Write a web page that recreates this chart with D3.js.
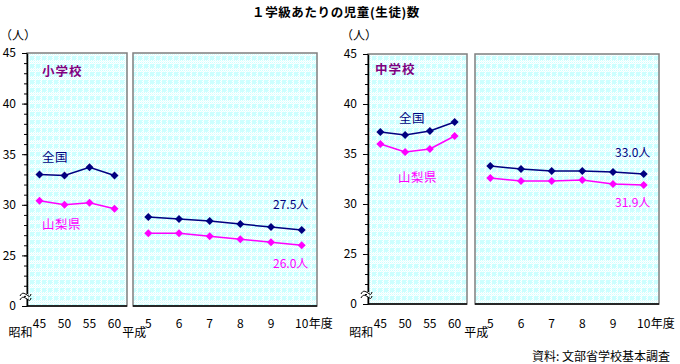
<!DOCTYPE html>
<html><head><meta charset="utf-8">
<script src="https://cdn.jsdelivr.net/npm/d3@7"></script>
<style>body{margin:0;background:#fff} text{font-family:"Noto Sans CJK JP","Noto Sans",sans-serif}</style>
</head><body><svg id="c" width="680" height="364"></svg>
<script>
// ---- data ----
const showaYears = ["45","50","55","60"];
const heiseiYears = ["5","6","7","8","9","10"];
const elemNationalShowa   = [33.0, 32.9, 33.7, 32.9];
const elemYamanashiShowa  = [30.4, 30.0, 30.2, 29.6];
const elemNationalHeisei  = [28.8, 28.6, 28.4, 28.1, 27.8, 27.5];
const elemYamanashiHeisei = [27.2, 27.2, 26.9, 26.6, 26.3, 26.0];
const juniorNationalShowa   = [37.2, 36.9, 37.3, 38.2];
const juniorYamanashiShowa  = [36.0, 35.2, 35.5, 36.8];
const juniorNationalHeisei  = [33.8, 33.5, 33.3, 33.3, 33.2, 33.0];
const juniorYamanashiHeisei = [32.6, 32.3, 32.3, 32.4, 32.0, 31.9];
const yTickValues = [20, 25, 30, 35, 40, 45];   // 20 position shown as "0" (broken axis)
const yTickLabels = ["0","25","30","35","40","45"];
const seriesNames = ["全国","山梨県"];

const NAVY = "#000080", MAG = "#ff00ff", PURPLE = "#800080";
const svg = d3.select("#c");

// background pattern
const defs = svg.append("defs");
const dith = defs.append("pattern").attr("id","dith").attr("patternUnits","userSpaceOnUse").attr("width",2).attr("height",2);
dith.append("rect").attr("width",2).attr("height",2).attr("fill","#fff");
dith.append("rect").attr("width",1).attr("height",1).attr("fill","#ccffff");
dith.append("rect").attr("x",1).attr("y",1).attr("width",1).attr("height",1).attr("fill","#eaffff");
const bg = defs.append("pattern").attr("id","bg").attr("patternUnits","userSpaceOnUse").attr("width",6).attr("height",8);
bg.append("rect").attr("width",6).attr("height",8).attr("fill","url(#dith)");
bg.append("rect").attr("width",4).attr("height",4).attr("fill","#ccffff");

// title
svg.append("text").attr("x",336).attr("y",17).attr("text-anchor","middle")
  .attr("font-size",12.5).attr("font-weight","bold").attr("letter-spacing",0.6)
  .text("１学級あたりの児童(生徒)数");
svg.append("text").attr("x",670).attr("y",361).attr("text-anchor","end")
  .attr("font-size",12).text("資料: 文部省学校基本調査");

function drawChart(cfg){
  const g = svg.append("g");
  const y = d3.scaleLinear().domain([20,45]).range([cfg.bottom, cfg.top]);
  const x1 = d3.scaleBand().domain(showaYears).range(cfg.p1);
  const x2 = d3.scaleBand().domain(heiseiYears).range(cfg.p2);

  // panels
  [cfg.p1, cfg.p2].forEach(r=>{
    g.append("rect").attr("x",r[0]).attr("y",cfg.top).attr("width",r[1]-r[0]).attr("height",cfg.bottom-cfg.top)
      .attr("fill","url(#bg)").attr("stroke","#808080").attr("stroke-width",1.5);
    g.append("line").attr("x1",r[0]).attr("x2",r[1]).attr("y1",cfg.bottom).attr("y2",cfg.bottom)
      .attr("stroke","#000").attr("stroke-width",1.5);
  });

  // y axis
  const minor = g.append("g").attr("transform",`translate(${cfg.p1[0]},0)`)
    .call(d3.axisLeft(y).tickValues(d3.range(20,46,1)).tickSize(3).tickSizeOuter(0).tickFormat(""));
  minor.select(".domain").attr("stroke","#000").attr("stroke-width",1.5);
  const major = g.append("g").attr("transform",`translate(${cfg.p1[0]},0)`)
    .call(d3.axisLeft(y).tickValues(yTickValues).tickSize(5).tickSizeOuter(0).tickPadding(6)
      .tickFormat((d,i)=>yTickLabels[i]));
  major.select(".domain").remove();
  major.selectAll("text").attr("font-size",12).attr("fill","#000");
  g.selectAll(".tick line").attr("stroke","#000");

  // break symbol
  const ax = cfg.p1[0], yy = y(20) - 9;
  g.append("rect").attr("x",ax-1).attr("y",yy-3).attr("width",2).attr("height",5).attr("fill","#fff");
  [-2,2].forEach(o=>{
    g.append("path").attr("d",`M${ax-7},${yy+o+1} C${ax-5},${yy+o-3} ${ax-3},${yy+o-2} ${ax},${yy+o} S${ax+3},${yy+o+2} ${ax+4},${yy+o-1}`)
      .attr("fill","none").attr("stroke","#000").attr("stroke-width",1);
  });

  // x labels
  const lx = g.append("g").attr("font-size",12);
  showaYears.forEach(d=>lx.append("text").attr("x",x1(d)+x1.bandwidth()/2).attr("y",328).attr("text-anchor","middle").text(d));
  heiseiYears.forEach(d=>lx.append("text").attr("x",x2(d)+x2.bandwidth()/2).attr("y",328).attr("text-anchor","middle").text(d));
  const last = heiseiYears[heiseiYears.length-1];
  lx.append("text").attr("x",x2(last)+x2.bandwidth()/2+7).attr("y",328).text("年度");
  lx.append("text").attr("x",x1(showaYears[0])+x1.bandwidth()/2-7).attr("y",337).attr("text-anchor","end").text("昭和");
  lx.append("text").attr("x",x2(heiseiYears[0])+x2.bandwidth()/2-2).attr("y",337).attr("text-anchor","end").text("平成");

  // unit
  g.append("text").attr("x",cfg.p1[0]-27).attr("y",40).attr("font-size",12).text("（人）");

  // series
  const line = d3.line().x(d=>d[0]).y(d=>d[1]);
  const diamond = "M0,-4L4,0L0,4L-4,0Z";
  cfg.series.forEach(s=>{
    [[x1, showaYears, s.showa],[x2, heiseiYears, s.heisei]].forEach(([xs, cats, vals])=>{
      const pts = vals.map((v,i)=>[xs(cats[i])+xs.bandwidth()/2, y(v)]);
      g.append("path").attr("d",line(pts)).attr("fill","none").attr("stroke",s.color).attr("stroke-width",1.5);
      g.selectAll(null).data(pts).enter().append("path").attr("d",diamond)
        .attr("transform",d=>`translate(${d[0]},${d[1]})`).attr("fill",s.color);
    });
  });

  // annotations
  g.append("text").attr("x",cfg.titlePos[0]).attr("y",cfg.titlePos[1]).attr("font-size",12.5)
    .attr("font-weight","bold").attr("fill",PURPLE).attr("letter-spacing",1).text(cfg.title);
  cfg.series.forEach(s=>{
    g.append("text").attr("x",s.namePos[0]).attr("y",s.namePos[1]).attr("font-size",12.5)
      .attr("fill",s.color).attr("letter-spacing",0.5).text(s.name);
    const v = s.heisei[s.heisei.length-1];
    g.append("text").attr("x",s.valPos[0]).attr("y",s.valPos[1]).attr("font-size",12)
      .attr("fill",s.color).text(v.toFixed(1)+"人");
  });
}

drawChart({
  p1:[27,127], p2:[133,317], top:53, bottom:306,
  title:"小学校", titlePos:[42,76],
  series:[
    {name:seriesNames[0], color:NAVY, showa:elemNationalShowa, heisei:elemNationalHeisei, namePos:[42,162], valPos:[273,209]},
    {name:seriesNames[1], color:MAG, showa:elemYamanashiShowa, heisei:elemYamanashiHeisei, namePos:[42,229], valPos:[273,268]}
  ]
});
drawChart({
  p1:[368,467], p2:[475,659], top:54, bottom:304,
  title:"中学校", titlePos:[375,74],
  series:[
    {name:seriesNames[0], color:NAVY, showa:juniorNationalShowa, heisei:juniorNationalHeisei, namePos:[399,123], valPos:[615,157]},
    {name:seriesNames[1], color:MAG, showa:juniorYamanashiShowa, heisei:juniorYamanashiHeisei, namePos:[398,182], valPos:[615,207]}
  ]
});
</script></body></html>
